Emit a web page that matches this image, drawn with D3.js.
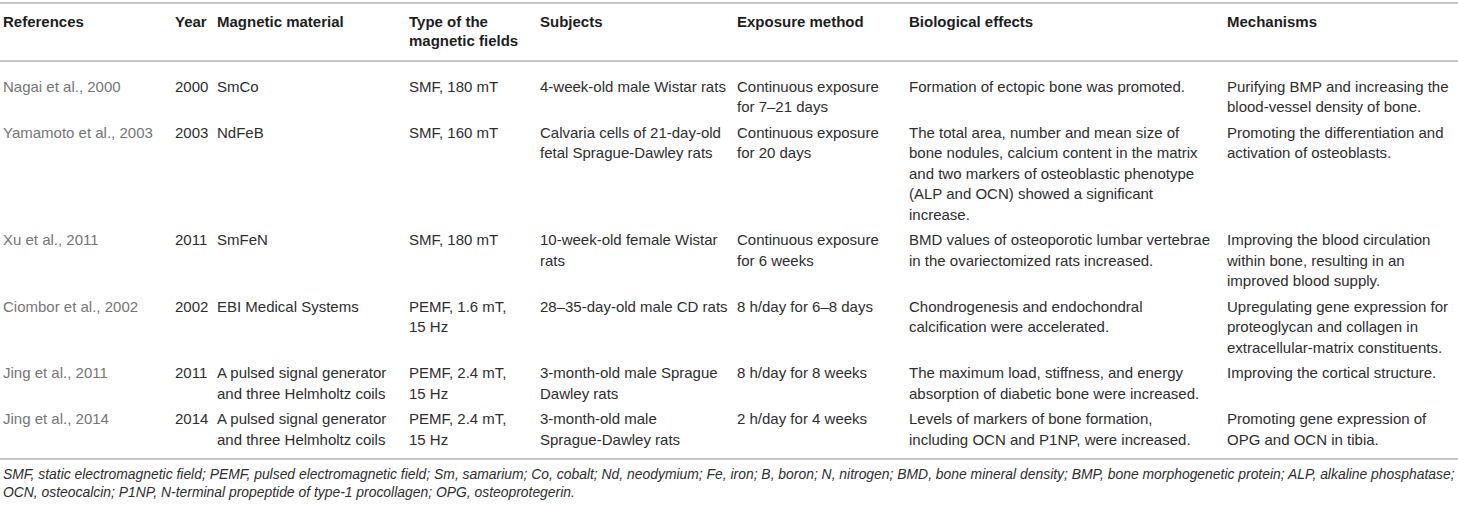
<!DOCTYPE html>
<html>
<head>
<meta charset="utf-8">
<script src="https://cdn.jsdelivr.net/npm/d3@7"></script>
<style>
  body { margin: 0; background: #fff; }
  text { font-family: "Liberation Sans", Arial, sans-serif; }
</style>
</head>
<body>
<div id="table"></div>
<script>
// column headers (each cell is a list of lines, as broken in the figure)
const headers = [
    ["References"], ["Year"], ["Magnetic material"], ["Type of the", "magnetic fields"],
    ["Subjects"], ["Exposure method"], ["Biological effects"], ["Mechanisms"]
];

const references = ["Nagai et al., 2000", "Yamamoto et al., 2003", "Xu et al., 2011",
    "Ciombor et al., 2002", "Jing et al., 2011", "Jing et al., 2014"];

const years = [2000, 2003, 2011, 2002, 2011, 2014];

const materials = [
    ["SmCo"], ["NdFeB"], ["SmFeN"], ["EBI Medical Systems"],
    ["A pulsed signal generator", "and three Helmholtz coils"],
    ["A pulsed signal generator", "and three Helmholtz coils"]
];

const fieldTypes = [
    ["SMF, 180 mT"], ["SMF, 160 mT"], ["SMF, 180 mT"],
    ["PEMF, 1.6 mT,", "15 Hz"], ["PEMF, 2.4 mT,", "15 Hz"], ["PEMF, 2.4 mT,", "15 Hz"]
];

const subjects = [
    ["4-week-old male Wistar rats"],
    ["Calvaria cells of 21-day-old", "fetal Sprague-Dawley rats"],
    ["10-week-old female Wistar", "rats"],
    ["28\u201335-day-old male CD rats"],
    ["3-month-old male Sprague", "Dawley rats"],
    ["3-month-old male", "Sprague-Dawley rats"]
];

const exposures = [
    ["Continuous exposure", "for 7\u201321 days"],
    ["Continuous exposure", "for 20 days"],
    ["Continuous exposure", "for 6 weeks"],
    ["8 h/day for 6\u20138 days"],
    ["8 h/day for 8 weeks"],
    ["2 h/day for 4 weeks"]
];

const effects = [
    ["Formation of ectopic bone was promoted."],
    ["The total area, number and mean size of", "bone nodules, calcium content in the matrix",
     "and two markers of osteoblastic phenotype", "(ALP and OCN) showed a significant", "increase."],
    ["BMD values of osteoporotic lumbar vertebrae", "in the ovariectomized rats increased."],
    ["Chondrogenesis and endochondral", "calcification were accelerated."],
    ["The maximum load, stiffness, and energy", "absorption of diabetic bone were increased."],
    ["Levels of markers of bone formation,", "including OCN and P1NP, were increased."]
];

const mechanisms = [
    ["Purifying BMP and increasing the", "blood-vessel density of bone."],
    ["Promoting the differentiation and", "activation of osteoblasts."],
    ["Improving the blood circulation", "within bone, resulting in an", "improved blood supply."],
    ["Upregulating gene expression for", "proteoglycan and collagen in", "extracellular-matrix constituents."],
    ["Improving the cortical structure."],
    ["Promoting gene expression of", "OPG and OCN in tibia."]
];

const footnote = [
    "SMF, static electromagnetic field; PEMF, pulsed electromagnetic field; Sm, samarium; Co, cobalt; Nd, neodymium; Fe, iron; B, boron; N, nitrogen; BMD, bone mineral density; BMP, bone morphogenetic protein; ALP, alkaline phosphatase;",
    "OCN, osteocalcin; P1NP, N-terminal propeptide of type-1 procollagen; OPG, osteoprotegerin."
];

function main() {
    const width = 1458;
    const height = 507;
    const colX = [3, 175, 217, 409, 540, 737, 909, 1227];
    const lineH = 20.5;
    const rowPad = 5;

    const svg = d3.select("#table")
        .append("svg")
        .attr("width", width)
        .attr("height", height);

    // build rows from the column arrays
    const rows = references.map((r, i) => [
        [r], [String(years[i])], materials[i], fieldTypes[i],
        subjects[i], exposures[i], effects[i], mechanisms[i]
    ]);

    const headTop = 3;
    const headBottom = 61;
    let y = 86;
    const rowY = rows.map(r => {
        const start = y;
        const n = d3.max(r, c => c.length);
        y += n * lineH + rowPad;
        return start;
    });
    const bodyBottom = rowY[rowY.length - 1] + lineH + 20;

    // rules
    svg.selectAll("line.rule")
        .data([headTop, headBottom, bodyBottom])
        .join("line")
        .attr("class", "rule")
        .attr("x1", 0).attr("x2", width)
        .attr("y1", d => d).attr("y2", d => d)
        .style("stroke", "#c6c6c6")
        .style("stroke-width", 2);

    // header
    const head = svg.append("g");
    headers.forEach((h, j) => {
        head.append("text")
            .attr("x", colX[j])
            .attr("y", 27)
            .style("font-size", "15px")
            .style("font-weight", "bold")
            .style("fill", "#1e1e1e")
            .selectAll("tspan")
            .data(h)
            .join("tspan")
            .attr("x", colX[j])
            .attr("dy", (d, k) => k === 0 ? 0 : 18.5)
            .text(d => d);
    });

    // body
    const body = svg.append("g");
    rows.forEach((r, i) => {
        r.forEach((cell, j) => {
            body.append("text")
                .attr("x", colX[j])
                .attr("y", rowY[i] + 5.5)
                .style("font-size", "15px")
                .style("fill", j === 0 ? "#767676" : "#2e2e2e")
                .selectAll("tspan")
                .data(cell)
                .join("tspan")
                .attr("x", colX[j])
                .attr("dy", (d, k) => k === 0 ? 0 : lineH)
                .text(d => d);
        });
    });

    // footnote
    svg.append("g")
        .selectAll("text")
        .data(footnote)
        .join("text")
        .attr("x", 3)
        .attr("y", (d, k) => bodyBottom + 20 + k * 18)
        .style("font-size", "13.9px")
        .style("font-style", "italic")
        .style("fill", "#2e2e2e")
        .text(d => d);
}
main();
</script>
</body>
</html>
